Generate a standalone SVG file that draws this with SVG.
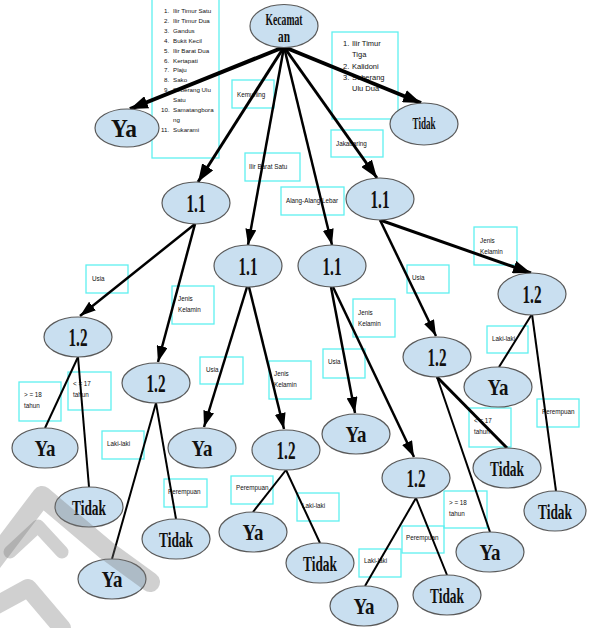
<svg xmlns="http://www.w3.org/2000/svg" width="589" height="628" viewBox="0 0 589 628">
<defs>
<marker id="ah" markerUnits="userSpaceOnUse" markerWidth="18" markerHeight="13" refX="18" refY="6.5" orient="auto"><path d="M0,0 L18,6.5 L0,13 z" fill="#000"/></marker>
<marker id="as" markerUnits="userSpaceOnUse" markerWidth="16" markerHeight="11" refX="16" refY="5.5" orient="auto"><path d="M0,0 L16,5.5 L0,11 z" fill="#000"/></marker>
<style>
.nd ellipse{fill:#c9dff0;stroke:#5a5a5a;stroke-width:1.2}
.nt{font-family:"Liberation Serif","Times New Roman",serif;font-weight:bold;fill:#111;text-anchor:middle}
.bx{fill:none;stroke:#5ff0f0;stroke-width:1.3}
.lb{font-family:"Liberation Sans",Arial,sans-serif;font-size:6.3px;fill:#111}
.ll{font-family:"Liberation Sans",Arial,sans-serif;font-size:6.2px;fill:#111}
.lr{font-family:"Liberation Sans",Arial,sans-serif;font-size:7.5px;fill:#111}
.c path,.c line{stroke:#000;fill:none;stroke-linecap:butt}
.a1{stroke-width:4;marker-end:url(#ah)}
.a2{stroke-width:3;marker-end:url(#ah)}
.a3{stroke-width:2.5;marker-end:url(#as)}
.p{stroke-width:2}
</style>
</defs>
<rect width="589" height="628" fill="#fff"/>

<g id="labels">
<g id="lst-left">
<rect class="bx" x="152" y="-2" width="67" height="160"/>
<g class="ll">
<text x="164" y="13">1.</text><text x="173" y="13">Ilir Timur Satu</text>
<text x="164" y="22.9">2.</text><text x="173" y="22.9">Ilir Timur Dua</text>
<text x="164" y="32.8">3.</text><text x="173" y="32.8">Gandus</text>
<text x="164" y="42.7">4.</text><text x="173" y="42.7">Bukit Kecil</text>
<text x="164" y="52.6">5.</text><text x="173" y="52.6">Ilir Barat Dua</text>
<text x="164" y="62.5">6.</text><text x="173" y="62.5">Kertapati</text>
<text x="164" y="72.4">7.</text><text x="173" y="72.4">Plaju</text>
<text x="164" y="82.3">8.</text><text x="173" y="82.3">Sako</text>
<text x="164" y="92.2">9.</text><text x="173" y="92.2">Seberang Ulu</text>
<text x="173" y="102.1">Satu</text>
<text x="161" y="112">10.</text><text x="173" y="112">Samatangbora</text>
<text x="173" y="121.9">ng</text>
<text x="161" y="131.8">11.</text><text x="173" y="131.8">Sukarami</text>
</g>
</g>
<g id="lst-right">
<rect class="bx" x="332" y="32" width="66" height="87"/>
<g class="lr">
<text x="343" y="46">1.</text><text x="352" y="46">Ilir Timur</text>
<text x="352" y="57">Tiga</text>
<text x="343" y="69">2.</text><text x="352" y="69">Kalidoni</text>
<text x="343" y="80">3.</text><text x="352" y="80">Seberang</text>
<text x="352" y="91">Ulu Dua</text>
</g>
</g>
<g class="lb">
<rect class="bx" x="232" y="80" width="42" height="28"/><text x="237" y="97">Kemuning</text>
<rect class="bx" x="245" y="153" width="55" height="28"/><text x="249" y="169">Ilir Barat Satu</text>
<rect class="bx" x="281" y="187" width="63" height="28"/><text x="286" y="203">Alang-Alang Lebar</text>
<rect class="bx" x="331" y="130" width="52" height="27"/><text x="336" y="146">Jakabaring</text>
<rect class="bx" x="86" y="265" width="42" height="28"/><text x="92" y="281">Usia</text>
<rect class="bx" x="172" y="286" width="42" height="38"/><text x="178" y="301">Jenis</text><text x="178" y="312">Kelamin</text>
<rect class="bx" x="474" y="227" width="43" height="38"/><text x="480" y="243">Jenis</text><text x="480" y="254">Kelamin</text>
<rect class="bx" x="407" y="265" width="42" height="28"/><text x="412" y="280">Usia</text>
<rect class="bx" x="353" y="299" width="42" height="38"/><text x="358" y="315">Jenis</text><text x="358" y="326">Kelamin</text>
<rect class="bx" x="487" y="326" width="41" height="27"/><text x="492" y="341">Laki-laki</text>
<rect class="bx" x="19" y="382" width="42" height="39"/><text x="24" y="397">&gt; = 18</text><text x="24" y="408">tahun</text>
<rect class="bx" x="68" y="372" width="43" height="38"/><text x="73" y="386">&lt; = 17</text><text x="73" y="397">tahun</text>
<rect class="bx" x="102" y="431" width="42" height="28"/><text x="107" y="446">Laki-laki</text>
<rect class="bx" x="164" y="479" width="43" height="28"/><text x="168" y="494">Perempuan</text>
<rect class="bx" x="200" y="357" width="43" height="27"/><text x="206" y="372">Usia</text>
<rect class="bx" x="269" y="361" width="42" height="38"/><text x="274" y="376">Jenis</text><text x="274" y="387">Kelamin</text>
<rect class="bx" x="231" y="476" width="42" height="28"/><text x="236" y="490">Perempuan</text>
<rect class="bx" x="297" y="493" width="42" height="28"/><text x="302" y="508">Laki-laki</text>
<rect class="bx" x="323" y="349" width="42" height="29"/><text x="328" y="364">Usia</text>
<rect class="bx" x="359" y="549" width="42" height="28"/><text x="364" y="563">Laki-laki</text>
<rect class="bx" x="402" y="526" width="42" height="27"/><text x="406" y="540">Perempuan</text>
<rect class="bx" x="444" y="491" width="43" height="37"/><text x="449" y="505">&gt; = 18</text><text x="449" y="516">tahun</text>
<rect class="bx" x="469" y="408" width="42" height="39"/><text x="474" y="423">&lt; = 17</text><text x="474" y="434">tahun</text>
<rect class="bx" x="537" y="399" width="42" height="28"/><text x="542" y="414">Perempuan</text>
</g>
</g>

<g id="connectors" class="c">
<line class="a1" x1="284" y1="47" x2="130" y2="109"/>
<line class="a1" x1="284" y1="47" x2="421" y2="103"/>
<line class="a2" x1="284" y1="47" x2="198" y2="182"/>
<line class="a3" x1="284" y1="47" x2="248" y2="245"/>
<line class="a3" x1="284" y1="47" x2="332" y2="245"/>
<line class="a2" x1="284" y1="47" x2="377" y2="178"/>
<line class="a3" x1="195" y1="224" x2="80" y2="316"/>
<line class="a3" x1="195" y1="224" x2="158" y2="362"/>
<line class="a3" x1="247" y1="287" x2="204" y2="427"/>
<line class="a3" x1="249" y1="287" x2="284" y2="429"/>
<line class="a3" x1="331" y1="287" x2="355" y2="413"/>
<line class="a3" x1="333" y1="287" x2="414" y2="457"/>
<line class="a3" x1="380" y1="220" x2="436" y2="336"/>
<line class="a2" x1="380" y1="220" x2="531" y2="273"/>
<line class="p" x1="78" y1="357" x2="45" y2="428"/>
<line class="p" x1="78" y1="357" x2="89" y2="487"/>
<line class="p" x1="156" y1="403" x2="112" y2="559"/>
<line class="p" x1="156" y1="403" x2="176" y2="519"/>
<line class="p" x1="286" y1="470" x2="253" y2="512"/>
<line class="p" x1="286" y1="470" x2="320" y2="543"/>
<line class="p" x1="416" y1="498" x2="365" y2="586"/>
<line class="p" x1="416" y1="498" x2="447" y2="575"/>
<line class="p" x1="437" y1="377" x2="490" y2="532"/>
<line class="a2" style="marker-end:none" x1="437" y1="377" x2="507" y2="448"/>
<line class="p" x1="532" y1="314" x2="499" y2="367"/>
<line class="p" x1="532" y1="314" x2="556" y2="491"/>
</g>

<g id="nodes" class="nd">
<g id="n-kecamatan"><ellipse cx="284" cy="26" rx="34" ry="21.5"/><text class="nt" x="284" y="25" font-size="16" textLength="37" lengthAdjust="spacingAndGlyphs">Kecamat</text><text class="nt" x="284" y="42" font-size="16" textLength="12" lengthAdjust="spacingAndGlyphs">an</text></g>
<g id="n-ya-top"><ellipse cx="127" cy="128" rx="32" ry="19"/><text class="nt" x="124" y="137" font-size="25" textLength="26" lengthAdjust="spacingAndGlyphs">Ya</text></g>
<g id="n-tidak-top"><ellipse cx="424" cy="124" rx="34" ry="21"/><text class="nt" x="424" y="129" font-size="16" textLength="23" lengthAdjust="spacingAndGlyphs">Tidak</text></g>
<g id="n-11a"><ellipse cx="196" cy="203" rx="34" ry="21"/><text class="nt" x="196" y="212" font-size="26" textLength="19" lengthAdjust="spacingAndGlyphs">1.1</text></g>
<g id="n-11b"><ellipse cx="248" cy="266" rx="34" ry="21"/><text class="nt" x="248" y="275" font-size="26" textLength="19" lengthAdjust="spacingAndGlyphs">1.1</text></g>
<g id="n-11c"><ellipse cx="332" cy="266" rx="34" ry="21"/><text class="nt" x="332" y="275" font-size="26" textLength="19" lengthAdjust="spacingAndGlyphs">1.1</text></g>
<g id="n-11d"><ellipse cx="380" cy="199" rx="34" ry="21"/><text class="nt" x="380" y="208" font-size="26" textLength="19" lengthAdjust="spacingAndGlyphs">1.1</text></g>
<g id="n-12a"><ellipse cx="78" cy="337" rx="34" ry="20"/><text class="nt" x="78" y="346" font-size="26" textLength="19" lengthAdjust="spacingAndGlyphs">1.2</text></g>
<g id="n-12b"><ellipse cx="156" cy="383" rx="34" ry="20"/><text class="nt" x="156" y="392" font-size="26" textLength="19" lengthAdjust="spacingAndGlyphs">1.2</text></g>
<g id="n-12c"><ellipse cx="286" cy="450" rx="34" ry="20"/><text class="nt" x="286" y="459" font-size="26" textLength="19" lengthAdjust="spacingAndGlyphs">1.2</text></g>
<g id="n-12d"><ellipse cx="416" cy="478" rx="34" ry="20"/><text class="nt" x="416" y="487" font-size="26" textLength="19" lengthAdjust="spacingAndGlyphs">1.2</text></g>
<g id="n-12e"><ellipse cx="437" cy="357" rx="34" ry="20"/><text class="nt" x="437" y="366" font-size="26" textLength="19" lengthAdjust="spacingAndGlyphs">1.2</text></g>
<g id="n-12f"><ellipse cx="532" cy="294" rx="34" ry="21"/><text class="nt" x="532" y="303" font-size="26" textLength="19" lengthAdjust="spacingAndGlyphs">1.2</text></g>
<g id="n-ya1"><ellipse cx="45" cy="448" rx="33" ry="20"/><text class="nt" x="45" y="456" font-size="23" textLength="21" lengthAdjust="spacingAndGlyphs">Ya</text></g>
<g id="n-tidak1"><ellipse cx="89" cy="507" rx="34" ry="20"/><text class="nt" x="89" y="515" font-size="22" textLength="34" lengthAdjust="spacingAndGlyphs">Tidak</text></g>
<g id="n-ya2"><ellipse cx="112" cy="579" rx="34" ry="20"/><text class="nt" x="112" y="587" font-size="23" textLength="21" lengthAdjust="spacingAndGlyphs">Ya</text></g>
<g id="n-tidak2"><ellipse cx="176" cy="539" rx="34" ry="20"/><text class="nt" x="176" y="547" font-size="22" textLength="34" lengthAdjust="spacingAndGlyphs">Tidak</text></g>
<g id="n-ya3"><ellipse cx="202" cy="448" rx="34" ry="20"/><text class="nt" x="202" y="456" font-size="23" textLength="21" lengthAdjust="spacingAndGlyphs">Ya</text></g>
<g id="n-ya4"><ellipse cx="253" cy="532" rx="34" ry="20"/><text class="nt" x="253" y="540" font-size="23" textLength="21" lengthAdjust="spacingAndGlyphs">Ya</text></g>
<g id="n-tidak4"><ellipse cx="320" cy="563" rx="34" ry="20"/><text class="nt" x="320" y="571" font-size="22" textLength="34" lengthAdjust="spacingAndGlyphs">Tidak</text></g>
<g id="n-ya5"><ellipse cx="356" cy="434" rx="34" ry="20"/><text class="nt" x="356" y="442" font-size="23" textLength="21" lengthAdjust="spacingAndGlyphs">Ya</text></g>
<g id="n-ya6"><ellipse cx="364" cy="606" rx="34" ry="20"/><text class="nt" x="364" y="614" font-size="23" textLength="21" lengthAdjust="spacingAndGlyphs">Ya</text></g>
<g id="n-tidak6"><ellipse cx="447" cy="595" rx="34" ry="20"/><text class="nt" x="447" y="603" font-size="22" textLength="34" lengthAdjust="spacingAndGlyphs">Tidak</text></g>
<g id="n-ya7"><ellipse cx="490" cy="552" rx="34" ry="20"/><text class="nt" x="490" y="560" font-size="23" textLength="21" lengthAdjust="spacingAndGlyphs">Ya</text></g>
<g id="n-tidak7"><ellipse cx="507" cy="468" rx="34" ry="20"/><text class="nt" x="507" y="476" font-size="22" textLength="34" lengthAdjust="spacingAndGlyphs">Tidak</text></g>
<g id="n-ya8"><ellipse cx="498" cy="387" rx="34" ry="20"/><text class="nt" x="498" y="395" font-size="23" textLength="21" lengthAdjust="spacingAndGlyphs">Ya</text></g>
<g id="n-tidak8"><ellipse cx="555" cy="511" rx="31" ry="20"/><text class="nt" x="555" y="519" font-size="20" textLength="34" lengthAdjust="spacingAndGlyphs">Tidak</text></g>
</g>

<g id="watermark" fill="none" stroke="#777" stroke-opacity="0.35" stroke-linejoin="round" stroke-linecap="round">
<path d="M-8,562 L42,496 L106,550 L150,582" stroke-width="20"/>
<path d="M10,552 L38,526 L62,552" stroke-width="13"/>
<path d="M-5,606 L28,588 L62,628" stroke-width="18"/>
</g>
</svg>
